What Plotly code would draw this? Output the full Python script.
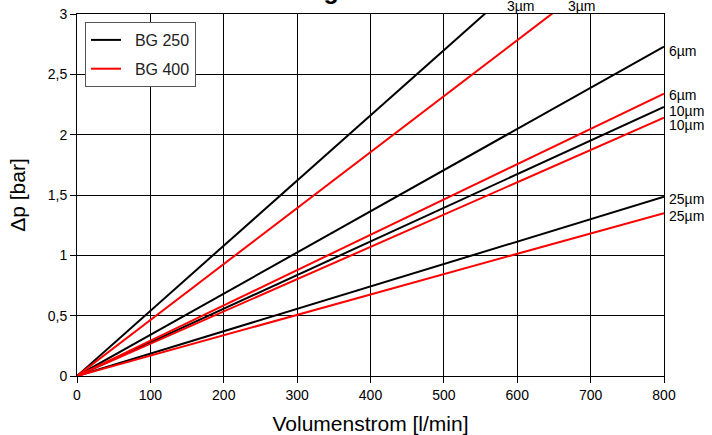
import plotly.graph_objects as go

# Data: straight-line characteristics, value of Δp at 800 l/min
flow = [0, 800]
bg250_labels = ["3µm", "6µm", "10µm", "25µm"]
bg250_dp800 = [4.32, 2.73, 2.23, 1.485]
bg400_labels = ["3µm", "6µm", "10µm", "25µm"]
bg400_dp800 = [3.71, 2.34, 2.14, 1.35]

# label positions
right_label_text = ["6µm", "6µm", "10µm", "10µm", "25µm", "25µm"]
right_label_y = [2.69, 2.33, 2.20, 2.08, 1.47, 1.33]
top_label_text = ["3µm", "3µm"]
top_label_x = [605, 688]

xticks = [0, 100, 200, 300, 400, 500, 600, 700, 800]
yticks = [0, 0.5, 1, 1.5, 2, 2.5, 3]

FONT = "Liberation Sans, Arial, sans-serif"

fig = go.Figure()
for i, v in enumerate(bg250_dp800):
    fig.add_trace(go.Scatter(x=flow, y=[0, v], mode="lines",
                             line=dict(color="black", width=2),
                             name="\u00a0\u00a0BG 250", legendgroup="bg250",
                             showlegend=(i == 0)))
for i, v in enumerate(bg400_dp800):
    fig.add_trace(go.Scatter(x=flow, y=[0, v], mode="lines",
                             line=dict(color="#ff0000", width=2),
                             name="\u00a0\u00a0BG 400", legendgroup="bg400",
                             showlegend=(i == 0)))

annotations = []
for t, y in zip(right_label_text, right_label_y):
    annotations.append(dict(x=800, y=y, xref="x", yref="y", text=t,
                            showarrow=False, xanchor="left", yanchor="middle",
                            xshift=3, font=dict(size=14, color="black", family=FONT)))
for t, x in zip(top_label_text, top_label_x):
    annotations.append(dict(x=x, y=1.0, xref="x", yref="paper", text=t,
                            showarrow=False, xanchor="center", yanchor="middle",
                            yshift=8, font=dict(size=14, color="black", family=FONT)))
annotations.append(dict(x=(287.5 - 77) / 587, y=1.0138, xref="paper", yref="paper",
                        text="<b>DN/NG: Elementbaugröße 250/400</b>",
                        showarrow=False, xanchor="center", yanchor="bottom",
                        yshift=3, font=dict(size=25, color="black", family=FONT)))

fig.update_layout(
    width=712, height=435,
    margin=dict(l=77, r=48, t=14, b=59),
    plot_bgcolor="white", paper_bgcolor="white",
    separators=",.",
    font=dict(family=FONT, color="black", size=14),
    showlegend=True,
    legend=dict(x=(85 - 77) / 587, y=(376 - 22) / 362, xanchor="left", yanchor="top",
                bgcolor="white", bordercolor="#555", borderwidth=1,
                font=dict(size=16, family=FONT, color="#222"),
                tracegroupgap=5),
    annotations=annotations,
)
fig.update_xaxes(range=[0, 800], tickvals=xticks, showgrid=True, gridcolor="black",
                 gridwidth=1, showline=True, linecolor="black", linewidth=1, mirror=True,
                 ticks="outside", ticklen=6, tickcolor="black", zeroline=False,
                 tickfont=dict(size=14), automargin=False,
                 title=dict(text="Volumenstrom [l/min]", font=dict(size=21), standoff=14))
fig.update_yaxes(range=[0, 3], tickvals=yticks, showgrid=True, gridcolor="black",
                 gridwidth=1, showline=True, linecolor="black", linewidth=1, mirror=True,
                 ticks="outside", ticklen=6, tickcolor="black", zeroline=False,
                 tickfont=dict(size=14), automargin=False,
                 title=dict(text="Δp [bar]", font=dict(size=21), standoff=16))

fig.write_html("out.html")
